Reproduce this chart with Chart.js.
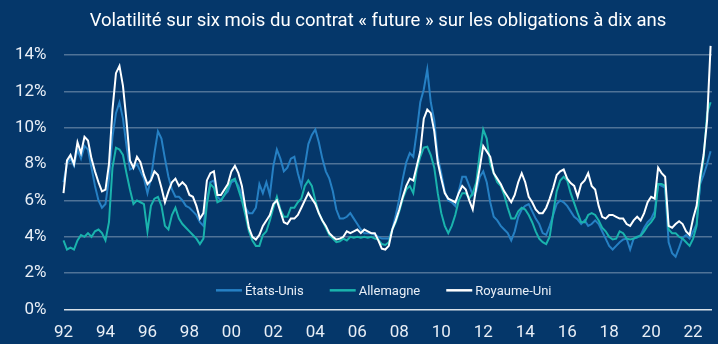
<!DOCTYPE html>
<html lang="fr">
<head>
<meta charset="utf-8">
<title>Volatilité des contrats future</title>
<script src="https://cdn.jsdelivr.net/npm/chart.js@4.4.1/dist/chart.umd.min.js"></script>
<style>
  html, body { margin: 0; padding: 0; background: #05376a; }
  #wrap { position: relative; width: 718px; height: 344px; }
  #title {
    position: absolute; left: 38px; right: 0; top: 10px;
    text-align: center; color: #ffffff;
    font: 18.5px/20px Roboto, sans-serif;
    white-space: nowrap;
  }
  canvas { position: absolute; left: 0; top: 0; }
</style>
</head>
<body>
<div id="wrap">
  <canvas id="volChart" width="718" height="344"></canvas>
  <div id="title">Volatilité sur six mois du contrat « future » sur les obligations à dix ans</div>
</div>
<script>
// one point every two months, from Jan 1992
const startYear = 1992;
const stepYears = 1 / 6;

const usVol = [
  7.0, 8.0, 8.3, 7.9, 8.8, 8.3, 9.0, 8.8, 7.8, 6.8, 6.0, 5.6, 5.8, 7.2, 9.5, 10.8, 11.4, 10.5, 9.0, 7.7,
  7.8, 8.0, 7.6, 7.2, 6.4, 7.2, 8.6, 9.8, 9.4, 8.3, 7.3, 6.6, 6.2, 6.2, 6.0, 5.7, 5.6, 5.4,
  5.2, 4.8, 4.6, 6.0, 7.0, 7.1, 6.2, 6.0, 6.3, 6.5, 7.0, 7.1, 6.8, 6.3, 5.6, 5.3, 5.3, 5.6, 6.9, 6.4,
  7.0, 6.3, 7.9, 8.8, 8.3, 7.6, 7.8, 8.3, 8.4, 7.5, 6.8, 7.9, 9.1, 9.6, 9.9, 9.2, 8.3,
  7.6, 7.2, 6.5, 5.5, 5.0, 5.0, 5.1, 5.3, 5.0, 4.7, 4.4, 4.2, 4.2, 4.2, 4.1, 4.0, 3.9, 3.9, 3.9, 4.4,
  5.2, 6.1, 7.2, 8.1, 8.6, 8.4, 9.8, 11.4, 12.1, 13.2, 11.4, 10.4, 8.4, 7.5, 6.5, 6.0, 5.9,
  5.7, 6.5, 7.3, 7.3, 6.8, 6.3, 6.5, 7.3, 7.6, 7.0, 5.9, 5.1, 4.9, 4.6, 4.4, 4.2, 3.8, 4.3, 5.1, 5.5,
  5.7, 5.8, 5.4, 5.0, 4.7, 4.2, 4.1, 4.6, 5.2, 5.8, 6.0, 5.9, 5.7, 5.4, 5.1, 4.95, 4.7,
  4.9, 4.6, 4.7, 4.9, 4.7, 4.3, 3.9, 3.5, 3.3, 3.5, 3.7, 3.85, 3.9, 3.3, 3.9, 3.95, 4.1, 4.5, 4.8, 5.0,
  5.4, 6.9, 6.8, 6.7, 3.7, 3.1, 2.9, 3.4, 3.95, 4.1, 3.9, 4.3, 4.7, 6.9, 7.4, 8.0, 8.7
];

const deVol = [
  3.8, 3.3, 3.4, 3.3, 3.8, 4.1, 4.0, 4.2, 4.0, 4.3, 4.4, 4.2, 3.8, 4.8, 7.8, 8.9, 8.8, 8.5, 7.5, 6.6,
  5.8, 6.0, 5.9, 5.8, 4.3, 5.7, 6.1, 6.2, 5.7, 4.6, 4.4, 5.2, 5.6, 5.0, 4.7, 4.5, 4.3, 4.1,
  3.9, 3.6, 3.9, 5.8, 6.9, 6.7, 5.9, 6.0, 6.3, 6.7, 7.1, 7.2, 6.6, 6.0, 5.2, 4.3, 3.8, 3.5, 3.5, 4.1,
  4.3, 4.9, 5.6, 6.2, 5.5, 5.1, 5.1, 5.6, 5.6, 5.9, 6.1, 6.8, 7.1, 6.8, 6.0, 5.3, 4.9,
  4.5, 4.1, 3.9, 3.7, 3.75, 3.9, 3.8, 4.0, 3.95, 4.0, 3.95, 4.0, 3.95, 4.0, 3.9, 3.85, 3.6, 3.55, 3.7, 4.4,
  4.8, 5.4, 6.1, 6.6, 6.8, 6.4, 7.7, 8.4, 8.9, 8.95, 8.5, 7.8, 6.4, 5.3, 4.6, 4.2, 4.6,
  5.2, 6.0, 6.4, 6.4, 6.1, 6.4, 7.0, 8.6, 9.9, 9.4, 8.0, 7.5, 7.0, 6.8, 6.3, 5.6, 5.0, 5.0, 5.4, 5.6,
  5.5, 5.2, 4.8, 4.3, 3.9, 3.7, 3.6, 4.0, 5.3, 6.5, 7.1, 7.3, 7.1, 6.4, 5.85, 5.3, 4.8,
  4.8, 5.2, 5.3, 5.2, 4.9, 4.5, 4.3, 4.0, 3.85, 3.9, 4.3, 4.2, 3.9, 3.85, 3.9, 4.0, 4.05, 4.3, 4.6, 4.8,
  5.1, 6.9, 6.9, 6.8, 4.4, 4.2, 4.2, 4.0, 3.9, 3.7, 3.5, 3.9, 4.6, 7.0, 8.3, 10.8, 11.4
];

const ukVol = [
  6.4, 8.2, 8.5, 8.0, 9.2, 8.6, 9.5, 9.3, 8.3, 7.6, 7.0, 6.5, 6.6, 8.0, 11.0, 13.0, 13.4, 12.3, 10.4, 8.2,
  7.8, 8.4, 8.1, 7.4, 6.9, 7.1, 7.6, 7.4, 6.7, 5.9, 6.5, 7.0, 7.2, 6.8, 7.0, 6.8, 6.3, 6.2,
  5.7, 5.0, 5.3, 7.1, 7.5, 7.6, 6.3, 6.3, 6.6, 6.9, 7.6, 7.9, 7.5, 6.8, 5.6, 4.5, 4.0, 3.85, 4.1, 4.6,
  4.9, 5.2, 5.8, 6.0, 5.4, 4.8, 4.7, 5.0, 5.0, 5.2, 5.6, 6.0, 6.4, 6.1, 5.8, 5.3, 4.9,
  4.6, 4.2, 4.0, 3.85, 3.9, 4.0, 4.3, 4.2, 4.3, 4.4, 4.2, 4.4, 4.3, 4.2, 4.2, 3.8, 3.35, 3.3, 3.5, 4.4,
  4.9, 5.5, 6.2, 6.8, 7.2, 7.1, 7.9, 8.7, 10.5, 11.0, 10.8, 9.8, 8.1, 7.2, 6.4, 6.1, 6.0,
  5.9, 6.4, 6.8, 6.6, 6.0, 5.5, 6.7, 7.8, 9.0, 8.7, 8.4, 7.5, 7.2, 6.9, 6.5, 6.2, 5.9, 6.3, 7.0, 7.5,
  7.0, 6.2, 5.9, 5.5, 5.3, 5.3, 5.6, 6.1, 6.7, 7.4, 7.6, 7.7, 7.2, 6.95, 6.8, 6.2, 6.9,
  7.1, 7.5, 6.8, 6.6, 5.7, 5.1, 5.0, 5.2, 5.2, 5.1, 5.0, 5.0, 4.7, 4.6, 4.9, 5.1, 4.9, 5.3, 5.9, 6.2,
  6.1, 7.8, 7.5, 7.3, 4.6, 4.5, 4.7, 4.85, 4.7, 4.3, 4.1, 5.0, 5.7, 7.3, 8.5, 10.4, 14.5
];

const dates = usVol.map((_, i) => startYear + i * stepYears);
const seriesNames = ['États-Unis', 'Allemagne', 'Royaume-Uni'];
const yTicks = [0, 2, 4, 6, 8, 10, 12, 14];
const xTickYears = [1992, 1994, 1996, 1998, 2000, 2002, 2004, 2006, 2008, 2010, 2012, 2014, 2016, 2018, 2020, 2022];
const legendLevel = 1; // legend sits on the 1% line

const colors = { us: '#2680c4', de: '#1ab3ad', uk: '#ffffff' };

function toPoints(values) {
  return values.map((v, i) => ({ x: dates[i], y: v }));
}

// legend drawn as short line samples inside the plot
const lineLegend = {
  id: 'lineLegend',
  afterDatasetsDraw(chart) {
    const { ctx, chartArea, scales } = chart;
    const y = scales.y.getPixelForValue(legendLevel);
    ctx.save();
    ctx.font = '13px Roboto';
    ctx.textBaseline = 'middle';
    const items = chart.data.datasets.map(ds => ({
      label: ds.label, color: ds.borderColor, w: ctx.measureText(ds.label).width
    }));
    const sample = 26, gap = 3, spacing = 26;
    const total = items.reduce((s, it) => s + sample + gap + it.w, 0) + spacing * (items.length - 1);
    let x = (chartArea.left + chartArea.right) / 2 - total / 2 - 4;
    items.forEach(it => {
      ctx.strokeStyle = it.color;
      ctx.lineWidth = 2.5;
      ctx.beginPath();
      ctx.moveTo(x, y - 1);
      ctx.lineTo(x + sample, y - 1);
      ctx.stroke();
      ctx.fillStyle = '#e8eef6';
      ctx.fillText(it.label, x + sample + gap, y);
      x += sample + gap + it.w + spacing;
    });
    ctx.restore();
  }
};

const ctx = document.getElementById('volChart').getContext('2d');
const chart = new Chart(ctx, {
  type: 'line',
  data: {
    datasets: [
      { label: seriesNames[0], data: toPoints(usVol), borderColor: colors.us, order: 3 },
      { label: seriesNames[1], data: toPoints(deVol), borderColor: colors.de, order: 2 },
      { label: seriesNames[2], data: toPoints(ukVol), borderColor: colors.uk, order: 1 }
    ]
  },
  options: {
    responsive: false,
    animation: false,
    devicePixelRatio: 1,
    clip: false,
    layout: { padding: { left: 0, right: 6, top: 55, bottom: 0 } },
    elements: {
      line: { borderWidth: 2, tension: 0 },
      point: { radius: 0 }
    },
    plugins: {
      legend: { display: false },
      tooltip: { enabled: false },
      title: { display: false }
    },
    scales: {
      x: {
        type: 'linear',
        min: 1992,
        max: 2022.9,
        grid: { display: false },
        border: { display: false },
        afterFit: scale => { scale.height = 34.5; },
        afterBuildTicks: scale => { scale.ticks = xTickYears.map(v => ({ value: v })); },
        ticks: {
          autoSkip: false,
          maxRotation: 0,
          padding: 5,
          color: '#e8eef6',
          font: { family: 'Roboto', size: 17 },
          callback: v => String(v % 100).padStart(2, '0')
        }
      },
      y: {
        min: 0,
        max: 14,
        afterFit: scale => { scale.width = 63.5; },
        afterBuildTicks: scale => { scale.ticks = yTicks.map(v => ({ value: v })); },
        border: { display: false },
        grid: {
          drawTicks: false,
          lineWidth: 1.5,
          color: c => c.tick && c.tick.value === 0 ? 'rgba(255,255,255,0.85)' : 'rgba(255,255,255,0.3)'
        },
        ticks: {
          padding: 17,
          color: '#e8eef6',
          font: { family: 'Roboto', size: 17 },
          callback: v => v + '%'
        }
      }
    }
  },
  plugins: [lineLegend]
});
</script>
</body>
</html>
